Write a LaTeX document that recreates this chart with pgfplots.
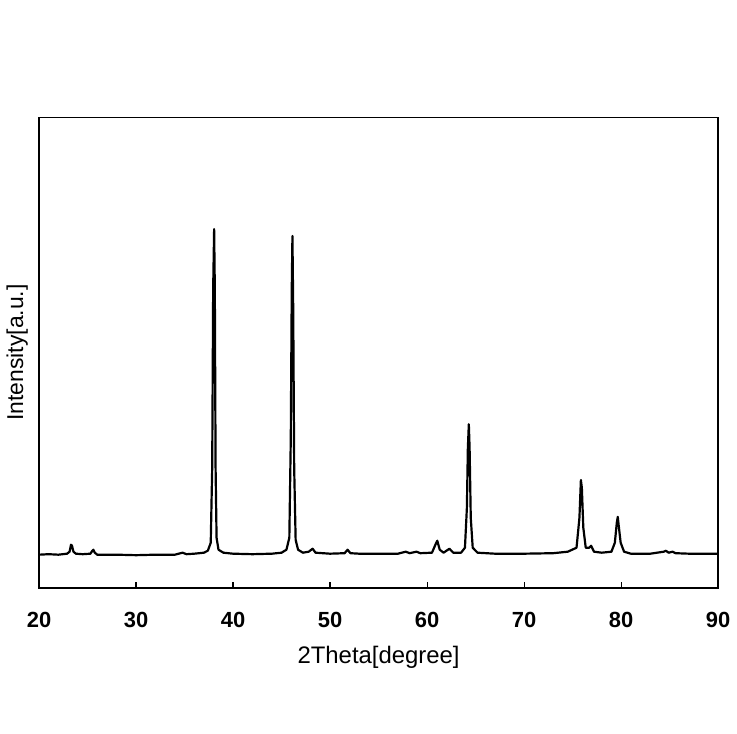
\documentclass[border=0pt]{standalone}
\usepackage{fontspec}
\setmainfont{Liberation Sans}
\usepackage{pgfplots}
\pgfplotsset{compat=1.18}
\usetikzlibrary{calc}
\begin{document}
\begin{tikzpicture}
\begin{axis}[
    scale only axis,
    width=341pt, height=236pt,
    xmin=20, xmax=90, ymin=0, ymax=472,
    xtick={20,30,...,90}, ytick=\empty,
    tick pos=bottom, tick align=inside,
    major tick length=3pt,
    axis line style={line width=1pt},
    every tick/.style={black, line width=0.6pt},
    /pgf/number format/assume math mode=true,
    xticklabel style={font=\fontsize{11}{13}\selectfont\bfseries, yshift=-9pt},
    xlabel={2Theta[degree]},
    xlabel style={font=\fontsize{12}{14}\selectfont, yshift=-2pt},
    ylabel={Intensity[a.u.]},
    ylabel style={font=\fontsize{11.5}{13}\selectfont, yshift=2pt},
]
\addplot[black, line width=1.1pt, line join=round] coordinates {
(20,33) (21,33.5) (22,33) (22.9,34) (23.15,36) (23.3,43) (23.4,42) (23.55,36) (23.8,34)
(24.5,33.5) (25.3,34) (25.5,37) (25.6,38) (25.75,35) (26,33)
(28,33) (30,32.5) (32,33) (34,33) (34.8,35) (35.2,33.5) (36,34) (37,35)
(37.4,37) (37.7,45) (37.85,120) (37.95,300) (38.05,360) (38.12,300) (38.2,120) (38.3,50) (38.5,38) (39,35)
(40,34) (42,33.5) (44,34) (45,35) (45.5,38) (45.8,50) (45.95,150) (46.05,300) (46.12,353) (46.2,280) (46.3,120) (46.45,48) (46.7,38)
(47.2,35) (47.8,36) (48.2,39) (48.5,35) (50,34) (51.5,34.5) (51.8,38) (52.1,34.5) (53,34) (55,34)
(57,34) (57.8,36) (58.2,34.5) (58.9,36) (59.3,34.5) (60.5,35) (60.9,44) (61.05,47) (61.3,38) (61.7,35)
(62.3,39) (62.7,35) (63.5,35) (63.9,40) (64.1,80) (64.2,140) (64.3,164) (64.38,140) (64.5,70) (64.7,40) (65.2,35)
(67,34) (70,34) (73,34.5) (74.5,36) (75.4,40) (75.7,70) (75.85,108) (75.95,100) (76.1,60) (76.35,40) (76.7,40) (76.9,42) (77.2,36)
(78,35) (79,36) (79.35,45) (79.55,65) (79.65,71) (79.75,62) (79.95,45) (80.3,36) (81,34) (83,34)
(84.4,36) (84.6,37) (84.9,35) (85.3,36) (85.6,34.5) (87,34) (90,34)
};
\end{axis}
\useasboundingbox ($(current axis.south west)+(-19pt,-73.5pt)$) rectangle ($(current axis.north east)+(8.5pt,59pt)$);
\end{tikzpicture}
\end{document}
